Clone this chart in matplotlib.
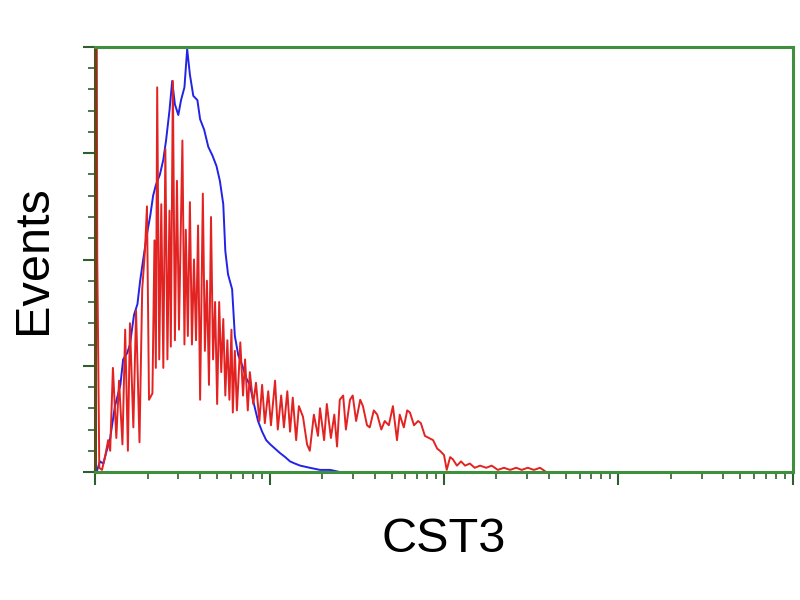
import numpy as np
import matplotlib
matplotlib.use("Agg")
import matplotlib.pyplot as plt
from matplotlib.ticker import LogLocator, MultipleLocator, NullFormatter

# log-amplifier channels (256 per decade, 4 decades) and event counts
blue_ch = [3, 7, 12, 16, 22, 29, 37, 41, 47, 51, 57, 62, 66, 70, 76, 81, 85, 89,
           95, 100, 104, 109, 113, 117, 122, 126, 131, 135, 139, 144, 150, 154,
           160, 166, 172, 178, 183, 188, 191, 195, 201, 205, 210, 216, 222, 227,
           233, 239, 245, 251, 257, 264, 271, 279, 286, 293, 301, 315, 330, 345, 359]
blue_cnt = [1, 5, 4, 9, 16, 31, 41, 53, 56, 60, 74, 79, 90, 99, 112, 121, 130, 135,
            140, 147, 156, 170, 184, 173, 168, 175, 181, 199, 187, 177, 175, 166,
            161, 153, 149, 144, 137, 126, 104, 93, 86, 64, 55, 50, 44, 41,
            32, 24, 19, 15, 13, 11, 9, 7, 5, 4, 3, 2, 1, 1, 0]

red_ch = [0, 2, 3, 6, 10, 15, 19, 22, 26, 31, 35, 40, 44, 48, 51, 56, 60, 65, 69,
          73, 76, 79, 84, 87, 89, 91, 94, 97, 100, 103, 106, 109, 111, 114, 117,
          120, 123, 128, 131, 133, 136, 139, 142, 145, 148, 151, 154, 158, 161,
          164, 167, 170, 173, 176, 179, 182, 185, 188, 191, 194, 197, 200, 202,
          205, 208, 213, 217, 220, 224, 227, 232, 236, 241, 245, 249, 254, 258,
          264, 268, 273, 277, 282, 286, 290, 295, 299, 305, 311, 315, 321, 327,
          330, 336, 340, 346, 351, 355, 359, 364, 368, 374, 378, 383, 389, 393,
          399, 403, 409, 414, 420, 425, 431, 437, 443, 447, 453, 458, 462, 468,
          474, 478, 484, 490, 496, 502, 506, 512, 516, 521, 525, 531, 537, 543,
          550, 557, 565, 574, 582, 591, 600, 609, 618, 626, 635, 644, 653, 662]
red_cnt = [260, 260, 102, 2, 1, 8, 15, 10, 49, 16, 43, 13, 67, 10, 70, 21, 76, 14, 86,
           104, 125, 34, 37, 109, 49, 181, 53, 126, 49, 152, 53, 123, 59, 184, 62,
           137, 67, 156, 60, 114, 64, 127, 60, 100, 62, 116, 34, 131, 57,
           90, 41, 120, 53, 80, 32, 80, 47, 72, 36, 62, 34, 67, 28,
           57, 29, 61, 36, 53, 29, 47, 32, 42, 24, 41, 23, 38, 22,
           43, 20, 36, 21, 38, 19, 35, 15, 31, 26, 13, 10, 27, 17,
           30, 15, 32, 16, 27, 12, 34, 36, 20, 34, 36, 24, 34, 31,
           22, 21, 29, 27, 20, 24, 22, 31, 15, 27, 21, 29, 28, 22,
           24, 23, 17, 16, 15, 11, 10, 8, 1, 7, 6, 3, 5, 3,
           4, 2, 3, 2, 3, 1, 2, 1, 2, 1, 2, 1, 2, 0]

green = "#3f8f3f"
tick_col = "#2f5f2f"

plt.rcParams["font.family"] = ["Liberation Sans", "DejaVu Sans"]

fig = plt.figure(figsize=(8, 6), dpi=100)
ax = fig.add_axes([0.119, 0.2133, 0.872, 0.7084])

ax.plot(10 ** (np.array(blue_ch) / 256.0), blue_cnt, color="#2323e6", lw=1.4)
ax.plot(10 ** (np.array(red_ch) / 256.0), red_cnt, color="#e32222", lw=1.4)

ax.set_xscale("log")
ax.set_xlim(1, 1e4)
ax.set_ylim(0, 200)

ax.xaxis.set_major_locator(LogLocator(base=10, numticks=10))
ax.xaxis.set_minor_locator(LogLocator(base=10, subs=np.arange(2, 10), numticks=20))
ax.xaxis.set_major_formatter(NullFormatter())
ax.xaxis.set_minor_formatter(NullFormatter())
ax.yaxis.set_major_locator(MultipleLocator(50))
ax.yaxis.set_minor_locator(MultipleLocator(10))
ax.yaxis.set_major_formatter(NullFormatter())

ax.tick_params(axis="both", which="major", direction="out", length=9, width=1.5,
               color=tick_col)
ax.tick_params(axis="both", which="minor", direction="out", length=5, width=1.2,
               color=tick_col)

for side in ["top", "bottom", "right"]:
    ax.spines[side].set_color(green)
    ax.spines[side].set_linewidth(2.2)
ax.spines["left"].set_color("#5a4a1c")
ax.spines["left"].set_linewidth(2.2)

ax.set_xlabel("CST3", fontsize=35, labelpad=20)
ax.set_ylabel("Events", fontsize=35, labelpad=16)

fig.savefig("out.png", dpi=100)
